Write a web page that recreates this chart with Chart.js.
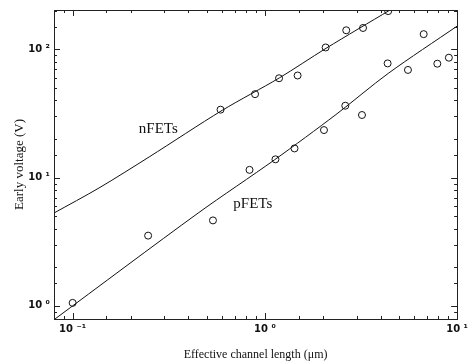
<!DOCTYPE html>
<html>
<head>
<meta charset="utf-8">
<script src="https://cdn.jsdelivr.net/npm/chart.js@4"></script>
<style>
  html, body { margin: 0; padding: 0; background: #fff; }
  #wrap { width: 472px; height: 364px; }
</style>
</head>
<body>
<div id="wrap"><canvas id="chart" width="472" height="364"></canvas></div>
<script>
"use strict";

// measured points (channel length in um, Early voltage in V)
const nLen = [0.588, 0.889, 1.185, 1.48, 2.07, 2.65, 3.24, 4.38];
const nVa  = [33.9, 44.8, 59.6, 62.6, 103.6, 141, 147, 199];

const pLen = [0.1, 0.247, 0.537, 0.832, 1.135, 1.426, 2.03, 2.62, 3.2, 4.35, 5.55, 6.7, 7.89, 9.06];
const pVa  = [1.055, 3.53, 4.64, 11.5, 13.9, 16.9, 23.5, 36.4, 30.8, 77.8, 69.2, 131.6, 77.4, 86.2];

// fitted curves
const nFitLen = [0.08, 0.137, 0.25, 0.6, 1.19, 2.08, 4.48];
const nFitVa  = [5.3, 8.3, 14.5, 33.5, 60, 102, 203];

const pFitLen = [0.08, 0.45, 1.125, 2.34, 4.38, 10];
const pFitVa  = [0.78, 5.3, 13.8, 31, 65, 152];

// curve labels
const labelText = ["nFETs", "pFETs"];
const labelLen  = [0.279, 0.865];
const labelVa   = [23.9, 6.25];

const xRange = [0.08, 10];
const yRange = [0.79, 203];

const SUP = { "-": "\u207B", "0": "\u2070", "1": "\u00B9", "2": "\u00B2", "3": "\u00B3" };

function pts(xs, ys) {
  return xs.map((x, i) => ({ x: x, y: ys[i] }));
}

function isDecade(v) {
  const l = Math.log10(v);
  return Math.abs(l - Math.round(l)) < 1e-6;
}

function decadeLabel(v) {
  if (!isDecade(v)) return "";
  const e = String(Math.round(Math.log10(v)));
  return "10 " + e.split("").map(c => SUP[c]).join("");
}

// inward ticks on all four sides + frame + curve labels
const frameTicks = {
  id: "frameTicks",
  afterDraw(chart) {
    const ctx = chart.ctx;
    const a = chart.chartArea;
    const xs = chart.scales.x, ys = chart.scales.y;
    ctx.save();
    ctx.strokeStyle = "#222";
    ctx.lineWidth = 1;
    ctx.strokeRect(Math.round(a.left) + 0.5, Math.round(a.top) + 0.5,
      Math.round(a.right - a.left), Math.round(a.bottom - a.top));

    ctx.beginPath();
    xs.ticks.forEach(t => {
      if (t.value <= xs.min || t.value >= xs.max) return;
      const px = Math.round(xs.getPixelForValue(t.value)) + 0.5;
      const len = isDecade(t.value) ? 6 : 3;
      ctx.moveTo(px, a.bottom); ctx.lineTo(px, a.bottom - len);
      ctx.moveTo(px, a.top); ctx.lineTo(px, a.top + len);
    });
    ys.ticks.forEach(t => {
      if (t.value <= ys.min || t.value >= ys.max) return;
      const py = Math.round(ys.getPixelForValue(t.value)) + 0.5;
      const len = isDecade(t.value) ? 6 : 3;
      ctx.moveTo(a.left, py); ctx.lineTo(a.left + len, py);
      ctx.moveTo(a.right, py); ctx.lineTo(a.right - len, py);
    });
    ctx.stroke();

    ctx.fillStyle = "#111";
    ctx.font = "15px 'Liberation Serif', serif";
    ctx.textAlign = "center";
    ctx.textBaseline = "middle";
    labelText.forEach((s, i) => {
      ctx.fillText(s, xs.getPixelForValue(labelLen[i]), ys.getPixelForValue(labelVa[i]));
    });
    ctx.restore();
  }
};

const tickFont = { family: "'DejaVu Sans', sans-serif", size: 10, weight: "bold" };
const titleFont = { family: "'Liberation Serif', serif", size: 12 };

const fitStyle = {
  type: "line",
  borderColor: "#111",
  borderWidth: 1,
  pointRadius: 0,
  tension: 0.3,
  fill: false
};

const dotStyle = {
  pointStyle: "circle",
  pointRadius: 3.5,
  borderColor: "#111",
  borderWidth: 1,
  backgroundColor: "rgba(255,255,255,0)"
};

new Chart(document.getElementById("chart"), {
  type: "scatter",
  data: {
    datasets: [
      Object.assign({ label: "nFET fit", data: pts(nFitLen, nFitVa) }, fitStyle),
      Object.assign({ label: "pFET fit", data: pts(pFitLen, pFitVa) }, fitStyle),
      Object.assign({ label: "nFETs", data: pts(nLen, nVa) }, dotStyle),
      Object.assign({ label: "pFETs", data: pts(pLen, pVa) }, dotStyle)
    ]
  },
  options: {
    responsive: false,
    animation: false,
    layout: { padding: { left: 0, top: 8, right: 9, bottom: 0 } },
    plugins: { legend: { display: false }, tooltip: { enabled: false } },
    scales: {
      x: {
        type: "logarithmic",
        position: "bottom",
        min: xRange[0],
        max: xRange[1],
        grid: { display: false, drawTicks: false },
        border: { display: false },
        ticks: {
          autoSkip: false,
          maxRotation: 0,
          padding: 4,
          color: "#111",
          font: tickFont,
          callback: v => decadeLabel(v)
        },
        title: {
          display: true,
          text: "Effective channel length (\u03BCm)",
          color: "#111",
          font: titleFont,
          padding: { top: 0, bottom: 2 }
        },
        afterFit: s => { s.height = 45; }
      },
      y: {
        type: "logarithmic",
        position: "left",
        min: yRange[0],
        max: yRange[1],
        grid: { display: false, drawTicks: false },
        border: { display: false },
        ticks: {
          autoSkip: false,
          padding: 4,
          color: "#111",
          font: tickFont,
          callback: v => decadeLabel(v)
        },
        title: {
          display: true,
          text: "Early voltage (V)",
          color: "#111",
          font: { family: "'Liberation Serif', serif", size: 13 },
          padding: { top: 12, bottom: 0 }
        },
        afterFit: s => { s.width = 54; }
      }
    }
  },
  plugins: [frameTicks]
});
</script>
</body>
</html>
